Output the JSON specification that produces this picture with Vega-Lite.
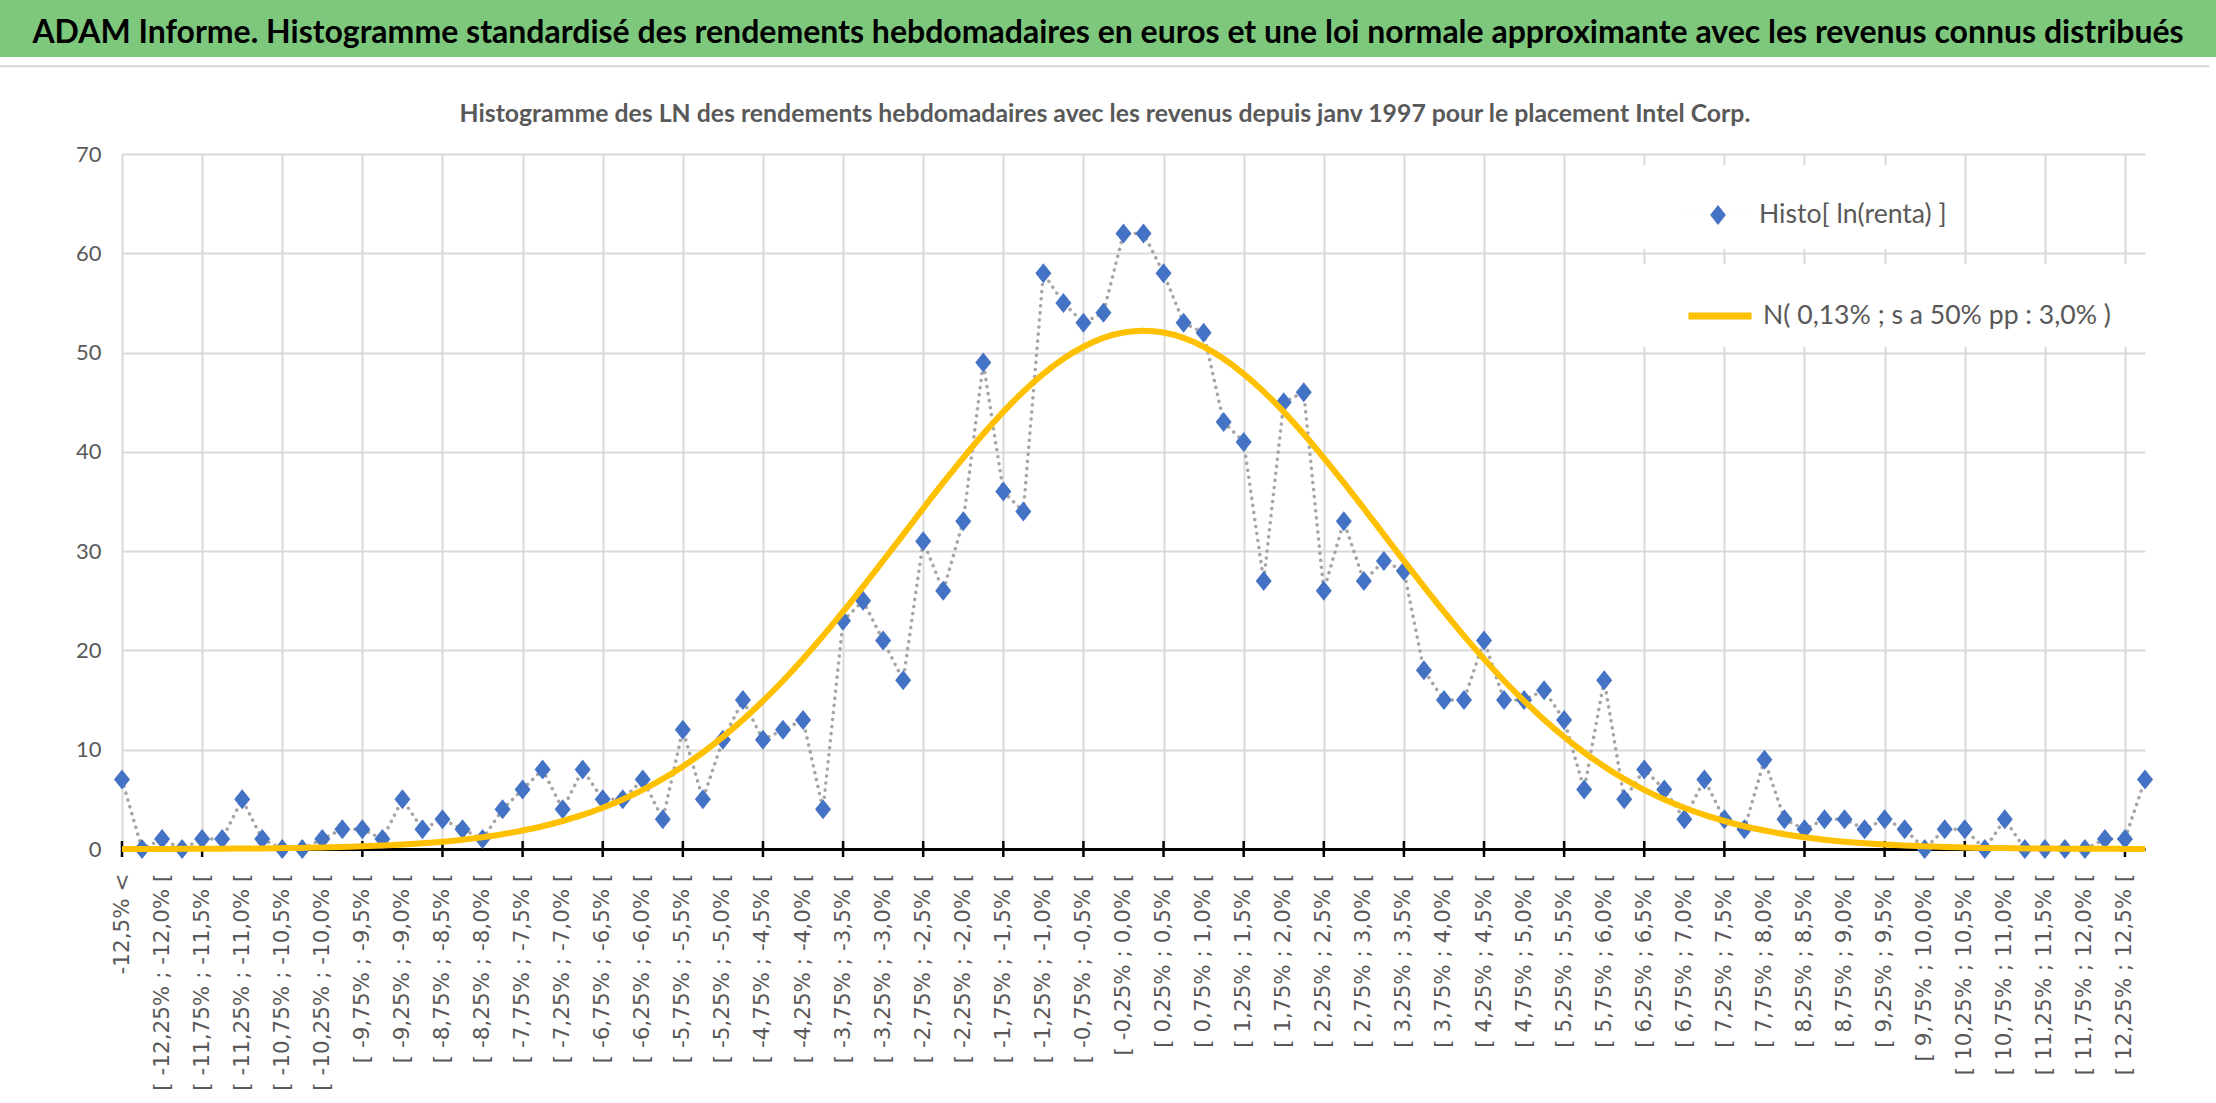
{
  "$schema": "https://vega.github.io/schema/vega-lite/v6.json",
  "padding": 0,
  "background": "white",
  "width": 2023,
  "height": 695,
  "config": {"view": {"stroke": null}},
  "datasets": {
    "histo": [
      {"k":0,"classe":"-12,5% <","h":7,"n":0.01},
      {"k":1,"classe":"[ -12,5% ; -12,25% [","h":0,"n":0.01},
      {"k":2,"classe":"[ -12,25% ; -12,0% [","h":1,"n":0.01},
      {"k":3,"classe":"[ -12,0% ; -11,75% [","h":0,"n":0.02},
      {"k":4,"classe":"[ -11,75% ; -11,5% [","h":1,"n":0.02},
      {"k":5,"classe":"[ -11,5% ; -11,25% [","h":1,"n":0.03},
      {"k":6,"classe":"[ -11,25% ; -11,0% [","h":5,"n":0.05},
      {"k":7,"classe":"[ -11,0% ; -10,75% [","h":1,"n":0.06},
      {"k":8,"classe":"[ -10,75% ; -10,5% [","h":0,"n":0.09},
      {"k":9,"classe":"[ -10,5% ; -10,25% [","h":0,"n":0.11},
      {"k":10,"classe":"[ -10,25% ; -10,0% [","h":1,"n":0.15},
      {"k":11,"classe":"[ -10,0% ; -9,75% [","h":2,"n":0.2},
      {"k":12,"classe":"[ -9,75% ; -9,5% [","h":2,"n":0.27},
      {"k":13,"classe":"[ -9,5% ; -9,25% [","h":1,"n":0.35},
      {"k":14,"classe":"[ -9,25% ; -9,0% [","h":5,"n":0.45},
      {"k":15,"classe":"[ -9,0% ; -8,75% [","h":2,"n":0.58},
      {"k":16,"classe":"[ -8,75% ; -8,5% [","h":3,"n":0.74},
      {"k":17,"classe":"[ -8,5% ; -8,25% [","h":2,"n":0.94},
      {"k":18,"classe":"[ -8,25% ; -8,0% [","h":1,"n":1.19},
      {"k":19,"classe":"[ -8,0% ; -7,75% [","h":4,"n":1.49},
      {"k":20,"classe":"[ -7,75% ; -7,5% [","h":6,"n":1.86},
      {"k":21,"classe":"[ -7,5% ; -7,25% [","h":8,"n":2.29},
      {"k":22,"classe":"[ -7,25% ; -7,0% [","h":4,"n":2.82},
      {"k":23,"classe":"[ -7,0% ; -6,75% [","h":8,"n":3.43},
      {"k":24,"classe":"[ -6,75% ; -6,5% [","h":5,"n":4.16},
      {"k":25,"classe":"[ -6,5% ; -6,25% [","h":5,"n":4.99},
      {"k":26,"classe":"[ -6,25% ; -6,0% [","h":7,"n":5.96},
      {"k":27,"classe":"[ -6,0% ; -5,75% [","h":3,"n":7.06},
      {"k":28,"classe":"[ -5,75% ; -5,5% [","h":12,"n":8.32},
      {"k":29,"classe":"[ -5,5% ; -5,25% [","h":5,"n":9.72},
      {"k":30,"classe":"[ -5,25% ; -5,0% [","h":11,"n":11.29},
      {"k":31,"classe":"[ -5,0% ; -4,75% [","h":15,"n":13.02},
      {"k":32,"classe":"[ -4,75% ; -4,5% [","h":11,"n":14.91},
      {"k":33,"classe":"[ -4,5% ; -4,25% [","h":12,"n":16.95},
      {"k":34,"classe":"[ -4,25% ; -4,0% [","h":13,"n":19.14},
      {"k":35,"classe":"[ -4,0% ; -3,75% [","h":4,"n":21.46},
      {"k":36,"classe":"[ -3,75% ; -3,5% [","h":23,"n":23.9},
      {"k":37,"classe":"[ -3,5% ; -3,25% [","h":25,"n":26.43},
      {"k":38,"classe":"[ -3,25% ; -3,0% [","h":21,"n":29.03},
      {"k":39,"classe":"[ -3,0% ; -2,75% [","h":17,"n":31.66},
      {"k":40,"classe":"[ -2,75% ; -2,5% [","h":31,"n":34.3},
      {"k":41,"classe":"[ -2,5% ; -2,25% [","h":26,"n":36.89},
      {"k":42,"classe":"[ -2,25% ; -2,0% [","h":33,"n":39.4},
      {"k":43,"classe":"[ -2,0% ; -1,75% [","h":49,"n":41.8},
      {"k":44,"classe":"[ -1,75% ; -1,5% [","h":36,"n":44.03},
      {"k":45,"classe":"[ -1,5% ; -1,25% [","h":34,"n":46.07},
      {"k":46,"classe":"[ -1,25% ; -1,0% [","h":58,"n":47.86},
      {"k":47,"classe":"[ -1,0% ; -0,75% [","h":55,"n":49.38},
      {"k":48,"classe":"[ -0,75% ; -0,5% [","h":53,"n":50.59},
      {"k":49,"classe":"[ -0,5% ; -0,25% [","h":54,"n":51.48},
      {"k":50,"classe":"[ -0,25% ; 0,0% [","h":62,"n":52.02},
      {"k":51,"classe":"[ 0,0% ; 0,25% [","h":62,"n":52.2},
      {"k":52,"classe":"[ 0,25% ; 0,5% [","h":58,"n":52.02},
      {"k":53,"classe":"[ 0,5% ; 0,75% [","h":53,"n":51.48},
      {"k":54,"classe":"[ 0,75% ; 1,0% [","h":52,"n":50.59},
      {"k":55,"classe":"[ 1,0% ; 1,25% [","h":43,"n":49.38},
      {"k":56,"classe":"[ 1,25% ; 1,5% [","h":41,"n":47.86},
      {"k":57,"classe":"[ 1,5% ; 1,75% [","h":27,"n":46.07},
      {"k":58,"classe":"[ 1,75% ; 2,0% [","h":45,"n":44.03},
      {"k":59,"classe":"[ 2,0% ; 2,25% [","h":46,"n":41.8},
      {"k":60,"classe":"[ 2,25% ; 2,5% [","h":26,"n":39.4},
      {"k":61,"classe":"[ 2,5% ; 2,75% [","h":33,"n":36.89},
      {"k":62,"classe":"[ 2,75% ; 3,0% [","h":27,"n":34.3},
      {"k":63,"classe":"[ 3,0% ; 3,25% [","h":29,"n":31.66},
      {"k":64,"classe":"[ 3,25% ; 3,5% [","h":28,"n":29.03},
      {"k":65,"classe":"[ 3,5% ; 3,75% [","h":18,"n":26.43},
      {"k":66,"classe":"[ 3,75% ; 4,0% [","h":15,"n":23.9},
      {"k":67,"classe":"[ 4,0% ; 4,25% [","h":15,"n":21.46},
      {"k":68,"classe":"[ 4,25% ; 4,5% [","h":21,"n":19.14},
      {"k":69,"classe":"[ 4,5% ; 4,75% [","h":15,"n":16.95},
      {"k":70,"classe":"[ 4,75% ; 5,0% [","h":15,"n":14.91},
      {"k":71,"classe":"[ 5,0% ; 5,25% [","h":16,"n":13.02},
      {"k":72,"classe":"[ 5,25% ; 5,5% [","h":13,"n":11.29},
      {"k":73,"classe":"[ 5,5% ; 5,75% [","h":6,"n":9.72},
      {"k":74,"classe":"[ 5,75% ; 6,0% [","h":17,"n":8.32},
      {"k":75,"classe":"[ 6,0% ; 6,25% [","h":5,"n":7.06},
      {"k":76,"classe":"[ 6,25% ; 6,5% [","h":8,"n":5.96},
      {"k":77,"classe":"[ 6,5% ; 6,75% [","h":6,"n":4.99},
      {"k":78,"classe":"[ 6,75% ; 7,0% [","h":3,"n":4.16},
      {"k":79,"classe":"[ 7,0% ; 7,25% [","h":7,"n":3.43},
      {"k":80,"classe":"[ 7,25% ; 7,5% [","h":3,"n":2.82},
      {"k":81,"classe":"[ 7,5% ; 7,75% [","h":2,"n":2.29},
      {"k":82,"classe":"[ 7,75% ; 8,0% [","h":9,"n":1.86},
      {"k":83,"classe":"[ 8,0% ; 8,25% [","h":3,"n":1.49},
      {"k":84,"classe":"[ 8,25% ; 8,5% [","h":2,"n":1.19},
      {"k":85,"classe":"[ 8,5% ; 8,75% [","h":3,"n":0.94},
      {"k":86,"classe":"[ 8,75% ; 9,0% [","h":3,"n":0.74},
      {"k":87,"classe":"[ 9,0% ; 9,25% [","h":2,"n":0.58},
      {"k":88,"classe":"[ 9,25% ; 9,5% [","h":3,"n":0.45},
      {"k":89,"classe":"[ 9,5% ; 9,75% [","h":2,"n":0.35},
      {"k":90,"classe":"[ 9,75% ; 10,0% [","h":0,"n":0.27},
      {"k":91,"classe":"[ 10,0% ; 10,25% [","h":2,"n":0.2},
      {"k":92,"classe":"[ 10,25% ; 10,5% [","h":2,"n":0.15},
      {"k":93,"classe":"[ 10,5% ; 10,75% [","h":0,"n":0.11},
      {"k":94,"classe":"[ 10,75% ; 11,0% [","h":3,"n":0.09},
      {"k":95,"classe":"[ 11,0% ; 11,25% [","h":0,"n":0.06},
      {"k":96,"classe":"[ 11,25% ; 11,5% [","h":0,"n":0.05},
      {"k":97,"classe":"[ 11,5% ; 11,75% [","h":0,"n":0.03},
      {"k":98,"classe":"[ 11,75% ; 12,0% [","h":0,"n":0.02},
      {"k":99,"classe":"[ 12,0% ; 12,25% [","h":1,"n":0.02},
      {"k":100,"classe":"[ 12,25% ; 12,5% [","h":1,"n":0.01},
      {"k":101,"classe":"12,5% >","h":7,"n":0.01}
    ]
  },
  "resolve": {
    "scale": {"x": "independent", "y": "independent", "color": "independent"},
    "axis": {"x": "independent", "y": "independent"},
    "legend": {"color": "independent"}
  },
  "layer": [
    {
      "data": {"name": "histo"},
      "resolve": {"axis": {"x": "independent"}, "scale": {"color": "independent"}, "legend": {"color": "independent"}},
      "layer": [
        {
          "mark": {"type": "line", "color": "#a5a5a5", "strokeWidth": 3.5, "strokeDash": [0.1, 7], "strokeCap": "round"},
          "encoding": {
            "x": {
              "field": "classe", "type": "ordinal", "sort": null,
              "scale": {"type": "point", "padding": 0},
              "axis": {
                "values": ["-12,5% <", "[ -12,25% ; -12,0% [", "[ -11,75% ; -11,5% [", "[ -11,25% ; -11,0% [", "[ -10,75% ; -10,5% [", "[ -10,25% ; -10,0% [", "[ -9,75% ; -9,5% [", "[ -9,25% ; -9,0% [", "[ -8,75% ; -8,5% [", "[ -8,25% ; -8,0% [", "[ -7,75% ; -7,5% [", "[ -7,25% ; -7,0% [", "[ -6,75% ; -6,5% [", "[ -6,25% ; -6,0% [", "[ -5,75% ; -5,5% [", "[ -5,25% ; -5,0% [", "[ -4,75% ; -4,5% [", "[ -4,25% ; -4,0% [", "[ -3,75% ; -3,5% [", "[ -3,25% ; -3,0% [", "[ -2,75% ; -2,5% [", "[ -2,25% ; -2,0% [", "[ -1,75% ; -1,5% [", "[ -1,25% ; -1,0% [", "[ -0,75% ; -0,5% [", "[ -0,25% ; 0,0% [", "[ 0,25% ; 0,5% [", "[ 0,75% ; 1,0% [", "[ 1,25% ; 1,5% [", "[ 1,75% ; 2,0% [", "[ 2,25% ; 2,5% [", "[ 2,75% ; 3,0% [", "[ 3,25% ; 3,5% [", "[ 3,75% ; 4,0% [", "[ 4,25% ; 4,5% [", "[ 4,75% ; 5,0% [", "[ 5,25% ; 5,5% [", "[ 5,75% ; 6,0% [", "[ 6,25% ; 6,5% [", "[ 6,75% ; 7,0% [", "[ 7,25% ; 7,5% [", "[ 7,75% ; 8,0% [", "[ 8,25% ; 8,5% [", "[ 8,75% ; 9,0% [", "[ 9,25% ; 9,5% [", "[ 9,75% ; 10,0% [", "[ 10,25% ; 10,5% [", "[ 10,75% ; 11,0% [", "[ 11,25% ; 11,5% [", "[ 11,75% ; 12,0% [", "[ 12,25% ; 12,5% ["],
                "title": null,
                "labelAngle": -90,
                "labelAlign": "right",
                "labelBaseline": "middle",
                "labelFont": "DejaVu Sans",
                "labelFontSize": 21.5,
                "labelColor": "#595959",
                "labelPadding": 24,
                "labelOverlap": false,
                "labelLimit": 400,
                "labelBound": false,
                "labelFlush": false,
                "ticks": false,
                "grid": false,
                "domain": true,
                "domainColor": "#000000",
                "domainWidth": 3,
                "zindex": 0
              }
            },
            "y": {
              "field": "h", "type": "quantitative",
              "scale": {"domain": [0, 70], "nice": false},
              "axis": {
                "values": [0, 10, 20, 30, 40, 50, 60, 70],
                "format": "d",
                "title": null,
                "grid": true,
                "gridColor": "#d9d9d9",
                "gridWidth": 2,
                "domain": false,
                "ticks": false,
                "labelFont": "Lato",
                "labelFontSize": 22,
                "labelColor": "#595959",
                "labelPadding": 21,
                "minExtent": 122,
                "maxExtent": 122,
                "zindex": 0
              }
            }
          }
        },
        {
          "mark": {"type": "tick", "orient": "vertical", "color": "#000000", "size": 16, "thickness": 2.5},
          "encoding": {
            "x": {
              "field": "classe", "type": "ordinal", "sort": null,
              "axis": {
                "values": ["-12,5% <", "[ -11,75% ; -11,5% [", "[ -10,75% ; -10,5% [", "[ -9,75% ; -9,5% [", "[ -8,75% ; -8,5% [", "[ -7,75% ; -7,5% [", "[ -6,75% ; -6,5% [", "[ -5,75% ; -5,5% [", "[ -4,75% ; -4,5% [", "[ -3,75% ; -3,5% [", "[ -2,75% ; -2,5% [", "[ -1,75% ; -1,5% [", "[ -0,75% ; -0,5% [", "[ 0,25% ; 0,5% [", "[ 1,25% ; 1,5% [", "[ 2,25% ; 2,5% [", "[ 3,25% ; 3,5% [", "[ 4,25% ; 4,5% [", "[ 5,25% ; 5,5% [", "[ 6,25% ; 6,5% [", "[ 7,25% ; 7,5% [", "[ 8,25% ; 8,5% [", "[ 9,25% ; 9,5% [", "[ 10,25% ; 10,5% [", "[ 11,25% ; 11,5% [", "[ 12,25% ; 12,5% ["],
                "title": null,
                "labels": false,
                "ticks": false,
                "domain": false,
                "grid": true,
                "gridColor": "#d9d9d9",
                "gridWidth": 2,
                "zindex": 0
              }
            },
            "y": {"datum": 0},
            "opacity": {"condition": {"test": "datum.k % 4 == 0", "value": 1}, "value": 0}
          }
        },
        {
          "mark": {"type": "point", "shape": "M-0.8,0L0,-1L0.8,0L0,1Z", "filled": true, "size": 400, "opacity": 1},
          "encoding": {
            "x": {"field": "classe", "type": "ordinal", "sort": null, "axis": null},
            "y": {"field": "h", "type": "quantitative"},
            "color": {
              "datum": "Histo[ ln(renta) ]",
              "scale": {"range": ["#4472c4"]},
              "legend": {
                "orient": "none",
                "legendX": 1512,
                "legendY": 11,
                "title": "\u00a0\u00a0\u00a0\u00a0\u00a0\u00a0\u00a0\u00a0\u00a0\u00a0\u00a0\u00a0\u00a0\u00a0\u00a0\u00a0\u00a0\u00a0\u00a0\u00a0\u00a0\u00a0\u00a0\u00a0\u00a0\u00a0\u00a0\u00a0\u00a0\u00a0",
                "titleOrient": "right",
                "titleFont": "Lato",
                "titleFontSize": 26.6,
                "titlePadding": 0,
                "padding": 17,
                "fillColor": "#ffffff",
                "symbolType": "M-1,0L-0.3,0M0.3,0L1,0M-0.25,0L0,-0.32L0.25,0L0,0.32Z",
                "symbolSize": 3969,
                "symbolOffset": 34,
                "symbolFillColor": "#4472c4",
                "symbolStrokeColor": "#a5a5a5",
                "symbolStrokeWidth": 3,
                "symbolDash": [0.1, 6],
                "labelOffset": 8,
                "labelFont": "Lato",
                "labelFontSize": 26.6,
                "labelColor": "#595959",
                "labelLimit": 600
              }
            }
          }
        },
        {
          "mark": {"type": "line", "strokeWidth": 6, "interpolate": "monotone"},
          "encoding": {
            "x": {"field": "classe", "type": "ordinal", "sort": null, "axis": null},
            "y": {"field": "n", "type": "quantitative"},
            "color": {
              "datum": "N( 0,13% ; s a 50% pp : 3,0% )",
              "scale": {"range": ["#ffc000"]},
              "legend": {
                "orient": "none",
                "legendX": 1512,
                "legendY": 110,
                "title": null,
                "padding": 17,
                "fillColor": "#ffffff",
                "symbolType": "stroke",
                "symbolSize": 3969,
                "symbolOffset": 34,
                "symbolStrokeWidth": 7,
                "labelOffset": 8,
                "labelFont": "Lato",
                "labelFontSize": 26.6,
                "labelColor": "#595959",
                "labelLimit": 600
              }
            }
          }
        }
      ]
    },
    {
      "data": {"values": [{"titre": "ADAM Informe. Histogramme standardisé des rendements hebdomadaires en euros et une loi normale approximante avec les revenus connus distribués", "sous_titre": "Histogramme des LN des rendements hebdomadaires avec les revenus depuis janv 1997 pour le placement Intel Corp."}]},
      "layer": [
        {
          "mark": {"type": "rect", "color": "#7ec87e"},
          "encoding": {
            "x": {"datum": 0, "type": "quantitative", "scale": {"domain": [0, 1], "range": [-122, 2094], "nice": false, "zero": false}, "axis": null},
            "x2": {"datum": 1},
            "y": {"datum": 0, "type": "quantitative", "scale": {"domain": [0, 1], "range": [-154, -97], "nice": false, "zero": false}, "axis": null},
            "y2": {"datum": 1}
          }
        },
        {
          "mark": {"type": "rect", "color": "#dcdcdc"},
          "encoding": {
            "x": {"datum": 0, "type": "quantitative"},
            "x2": {"datum": 0.997},
            "y": {"datum": 1.14, "type": "quantitative"},
            "y2": {"datum": 1.185}
          }
        },
        {
          "mark": {"type": "text", "font": "Lato", "fontWeight": "bold", "fontSize": 32, "color": "#000000", "align": "center", "baseline": "middle", "dy": 4},
          "encoding": {
            "x": {"datum": 0.5, "type": "quantitative"},
            "y": {"datum": 0.5, "type": "quantitative"},
            "text": {"field": "titre", "type": "nominal"}
          }
        },
        {
          "mark": {"type": "text", "font": "Lato", "fontWeight": "bold", "fontSize": 24.8, "color": "#595959", "align": "center", "baseline": "alphabetic"},
          "encoding": {
            "x": {"datum": 0.4986, "type": "quantitative"},
            "y": {"datum": 2.14, "type": "quantitative"},
            "text": {"field": "sous_titre", "type": "nominal"}
          }
        }
      ]
    }
  ]
}
